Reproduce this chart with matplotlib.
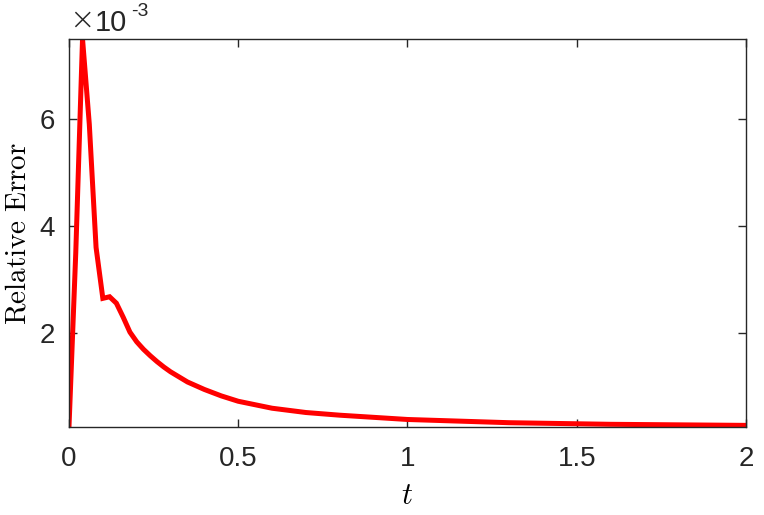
import matplotlib.pyplot as plt
import numpy as np

plt.rcParams['font.family'] = ['Liberation Sans', 'DejaVu Sans']
plt.rcParams['mathtext.fontset'] = 'cm'

# relative error (in units of 1e-3)
t = [0.00, 0.02, 0.04, 0.06, 0.08, 0.10, 0.12, 0.14, 0.16, 0.18, 0.20,
     0.22, 0.24, 0.26, 0.28, 0.30, 0.35, 0.40, 0.45, 0.50, 0.60, 0.70,
     0.80, 0.90, 1.00, 1.10, 1.20, 1.30, 1.40, 1.50, 1.60, 1.70, 1.80,
     1.90, 2.00]
err = [0.25, 3.50, 7.49, 5.90, 3.60, 2.65, 2.68, 2.56, 2.30, 2.02, 1.84,
       1.70, 1.58, 1.47, 1.37, 1.28, 1.09, 0.95, 0.83, 0.73, 0.60, 0.52,
       0.47, 0.43, 0.39, 0.37, 0.35, 0.33, 0.32, 0.31, 0.30, 0.295, 0.29,
       0.285, 0.28]

xticks = [0, 0.5, 1, 1.5, 2]
xticklabels = ['0', '0.5', '1', '1.5', '2']
yticks = [2, 4, 6]
yticklabels = ['2', '4', '6']

fig = plt.figure(figsize=(7.64, 5.15), dpi=100)
ax = fig.add_axes([0.0903, 0.1709, 0.8861, 0.7534])

ax.plot(t, err, color='#ff0000', lw=3.6, solid_joinstyle='miter')

ax.set_xlim(0, 2)
ax.set_ylim(0.25, 7.49)
ax.set_xticks(xticks)
ax.set_xticklabels(xticklabels)
ax.set_yticks(yticks)
ax.set_yticklabels(yticklabels)

gray = '#262626'
for s in ax.spines.values():
    s.set_color(gray)
    s.set_linewidth(1.0)
ax.tick_params(direction='in', length=6, width=1, colors=gray,
               labelsize=20, top=True, right=True)
ax.tick_params(axis='x', pad=14)
ax.tick_params(axis='y', pad=10)

ax.set_xlabel(r'$t$', fontsize=22, labelpad=6)
ax.set_ylabel(r'$\mathrm{Relative\ Error}$', fontsize=21, labelpad=6)

# exponent label as in the original
ax.text(0.0, 1.01, '\u00d7', transform=ax.transAxes, fontsize=22,
        color=gray, ha='left', va='bottom', family='DejaVu Sans',
        fontweight='light')
ax.text(0.038, 1.005, '10', transform=ax.transAxes, fontsize=21,
        color=gray, ha='left', va='bottom')
ax.text(0.092, 1.05, '-3', transform=ax.transAxes, fontsize=14,
        color=gray, ha='left', va='bottom')

fig.savefig('out.png', dpi=100)
